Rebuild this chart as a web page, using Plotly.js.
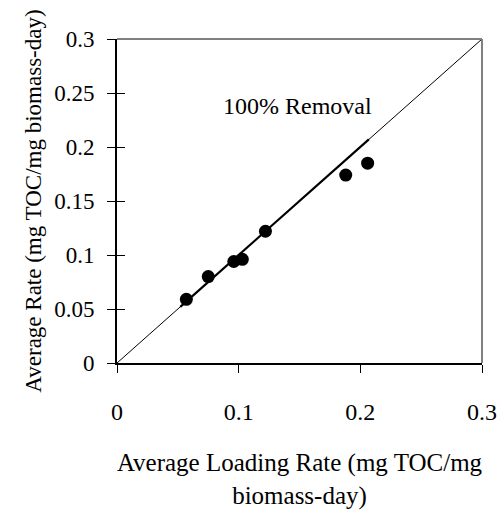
<!DOCTYPE html>
<html>
<head>
<meta charset="utf-8">
<script src="https://cdn.plot.ly/plotly-3.0.1.min.js"></script>
<style>html,body{margin:0;padding:0;background:#fff;}#chart{width:502px;height:513px;}</style>
</head>
<body>
<div id="chart"></div>
<script>
// Data
const loadingRate = [0.057, 0.075, 0.096, 0.103, 0.122, 0.188, 0.206];
const removalRate = [0.059, 0.080, 0.094, 0.096, 0.122, 0.174, 0.185];
// 100% removal reference line (y = x)
const refLineX = [0, 0.3];
const refLineY = [0, 0.3];
// fitted segment drawn heavier over the measured range
const fitLineX = [0.052, 0.207];
const fitLineY = [0.052, 0.207];
const xTickVals = [0, 0.1, 0.2, 0.3];
const xTickText = ['0', '0.1', '0.2', '0.3'];
const yTickVals = [0, 0.05, 0.1, 0.15, 0.2, 0.25, 0.3];
const yTickText = ['0', '0.05', '0.1', '0.15', '0.2', '0.25', '0.3'];

const FONT = 'Liberation Serif, Times New Roman, serif';

const traces = [
  {x: refLineX, y: refLineY, xaxis: 'x', yaxis: 'y2', mode: 'lines',
   line: {color: '#000', width: 1}, hoverinfo: 'skip', showlegend: false},
  {x: fitLineX, y: fitLineY, mode: 'lines',
   line: {color: '#000', width: 2.2}, hoverinfo: 'skip', showlegend: false},
  {x: loadingRate, y: removalRate, mode: 'markers',
   marker: {color: '#000', size: 13, symbol: 'circle'}, showlegend: false}
];

const layout = {
  width: 502, height: 513,
  margin: {l: 116.5, r: 20, t: 39, b: 150},
  paper_bgcolor: '#fff', plot_bgcolor: '#fff',
  font: {family: FONT, color: '#000', size: 23},
  showlegend: false,
  xaxis: {
    range: [0, 0.3], tickvals: xTickVals, ticktext: xTickText,
    showgrid: false, zeroline: false,
    showline: true, linecolor: '#000', linewidth: 2,
    ticks: 'outside', ticklen: 8, tickwidth: 1, tickcolor: '#000',
    ticklabelstandoff: 18,
    tickfont: {family: FONT, size: 24, color: '#000'},
    title: {text: 'Average Loading Rate (mg TOC/mg<br>biomass-day)', standoff: 30,
            font: {family: FONT, size: 25, color: '#000'}},
    fixedrange: true
  },
  yaxis: {
    range: [0, 0.3], tickvals: yTickVals, ticktext: yTickText,
    showgrid: false, zeroline: false,
    showline: true, linecolor: '#000', linewidth: 2,
    ticks: 'outside', ticklen: 8, tickwidth: 1, tickcolor: '#000',
    ticklabelstandoff: 8,
    tickfont: {family: FONT, size: 23, color: '#000'},
    title: {text: 'Average Rate (mg TOC/mg biomass-day)', standoff: 6,
            font: {family: FONT, size: 23, color: '#000'}},
    fixedrange: true
  },
  yaxis2: {
    range: [0, 0.3], tickvals: yTickVals, overlaying: 'y', side: 'left',
    showgrid: false, zeroline: false, showline: false,
    ticks: 'inside', ticklen: 8, tickwidth: 1, tickcolor: '#000',
    showticklabels: false, fixedrange: true
  },
  shapes: [
    {type: 'line', xref: 'paper', yref: 'paper', x0: 0, x1: 1, y0: 1, y1: 1,
     line: {color: '#808080', width: 2}},
    {type: 'line', xref: 'paper', yref: 'paper', x0: 1, x1: 1, y0: 0, y1: 1,
     line: {color: '#808080', width: 2}}
  ],
  annotations: [
    {x: 0.148, y: 0.238, xref: 'x', yref: 'y', text: '100% Removal', showarrow: false,
     font: {family: FONT, size: 24, color: '#000'}}
  ]
};

Plotly.newPlot('chart', traces, layout, {displayModeBar: false, staticPlot: true});
</script>
</body>
</html>
